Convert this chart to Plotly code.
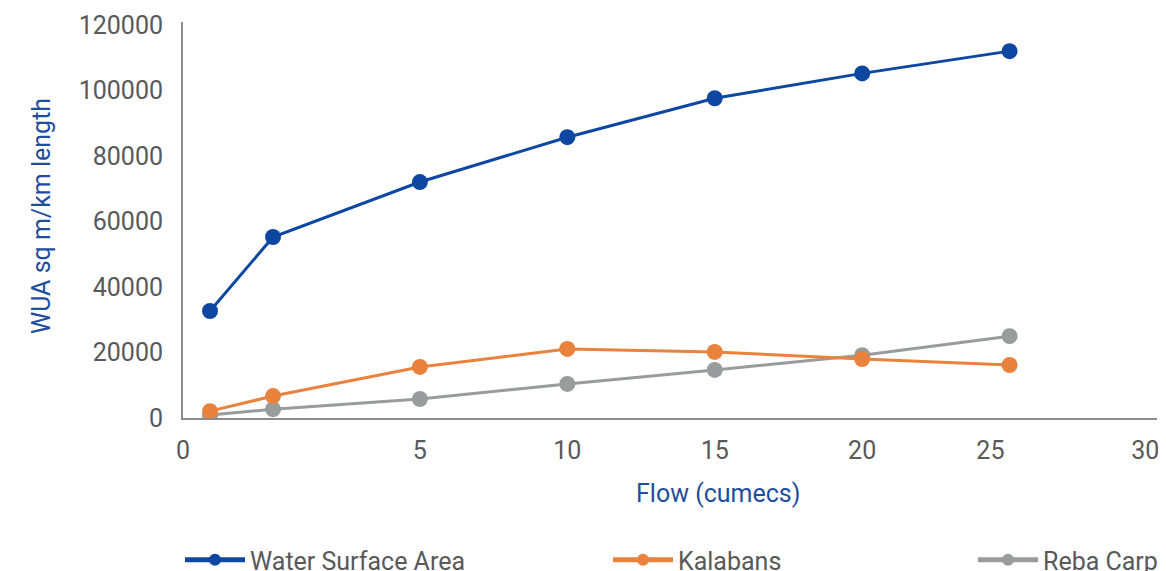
import plotly.graph_objects as go

# ---- data ----
flow = [0.57, 1.9, 5, 10, 15, 20, 25]           # Flow (cumecs)
water_surface_area = [32700, 55300, 72100, 85800, 97700, 105300, 112100]
kalabans = [2100, 6700, 15600, 21100, 20200, 18000, 16200]
reba_carp = [900, 2700, 5800, 10400, 14700, 19200, 25000]
x_tick_labels = ["0", "5", "10", "15", "20", "25", "30"]
x_tick_label_flow = [0, 5, 10, 15, 20, 24.35, 29.6]   # where the labels sit in the reference
y_tick_vals = [0, 20000, 40000, 60000, 80000, 100000, 120000]
y_tick_labels = [str(v) for v in y_tick_vals]

# the reference axis is stretched between 0 and 5 cumecs
STRETCH = 1.607


def axis_pos(f):
    return f if f >= 5 else 5 - (5 - f) * STRETCH


xs = [axis_pos(f) for f in flow]

BLUE = "#0D47A1"
ORANGE = "#E8823C"
GREY = "#9A9B9D"
TEXT = "#595959"
TITLE_BLUE = "#1F4E9C"
FONT = "Roboto"
FS = 25

fig = go.Figure()
series = [
    ("Water Surface Area", water_surface_area, BLUE, "legend"),
    ("Kalabans", kalabans, ORANGE, "legend2"),
    ("Reba Carp", reba_carp, GREY, "legend3"),
]
# draw order: grey below orange below blue
for name, vals, col, lg in [series[2], series[1], series[0]]:
    fig.add_trace(go.Scatter(
        x=xs, y=vals, name=name, mode="lines+markers",
        line=dict(color=col, width=3),
        marker=dict(color=col, size=16),
        legend=lg,
    ))

# page offset: the html body adds 8px around the figure
OFF = 8
W, H = 1166, 571
L, T = 183 - OFF, 22 - OFF
R = W - (1157 - OFF)
B = H - (418 - OFF)
pw = W - L - R
ph = H - T - B


def px_x(p):      # page pixel -> paper x
    return (p - OFF - L) / pw


def px_y(p):      # page pixel -> paper y
    return (H - B - (p - OFF)) / ph


leg_common = dict(
    orientation="h", yanchor="middle", xanchor="left",
    font=dict(family=FONT, size=FS, color=TEXT),
    bgcolor="rgba(0,0,0,0)", itemwidth=60, itemsizing="constant",
)

fig.update_layout(
    width=W, height=H,
    margin=dict(l=L, r=R, t=T, b=B, autoexpand=False),
    paper_bgcolor="white", plot_bgcolor="white",
    font=dict(family=FONT, size=FS, color=TEXT),
    showlegend=True,
    legend=dict(x=px_x(180), y=px_y(560), **leg_common),
    legend2=dict(x=px_x(608), y=px_y(560), **leg_common),
    legend3=dict(x=px_x(973), y=px_y(560), **leg_common),
    xaxis=dict(
        range=[axis_pos(0), 30],
        tickvals=[axis_pos(v) for v in x_tick_label_flow],
        ticktext=x_tick_labels,
        showgrid=False, zeroline=False,
        showline=True, linecolor="#8C8C8C", linewidth=2,
        ticks="outside", ticklen=9, tickcolor="rgba(0,0,0,0)",
        tickfont=dict(family=FONT, size=FS, color=TEXT),
    ),
    yaxis=dict(
        range=[0, 121000],
        tickvals=y_tick_vals,
        ticktext=y_tick_labels,
        showgrid=False, zeroline=False,
        showline=True, linecolor="#8C8C8C", linewidth=2,
        ticks="outside", ticklen=13, tickcolor="rgba(0,0,0,0)",
        tickfont=dict(family=FONT, size=FS, color=TEXT),
    ),
    annotations=[
        dict(text="Flow (cumecs)", xref="paper", yref="paper",
             x=px_x(718), y=px_y(493), xanchor="center", yanchor="middle",
             showarrow=False, font=dict(family=FONT, size=FS, color=TITLE_BLUE)),
        dict(text="WUA sq m/km length", xref="paper", yref="paper",
             x=px_x(41), y=px_y(216), xanchor="center", yanchor="middle",
             textangle=-90, showarrow=False,
             font=dict(family=FONT, size=FS, color=TITLE_BLUE)),
    ],
)

fig.write_html("out.html")
